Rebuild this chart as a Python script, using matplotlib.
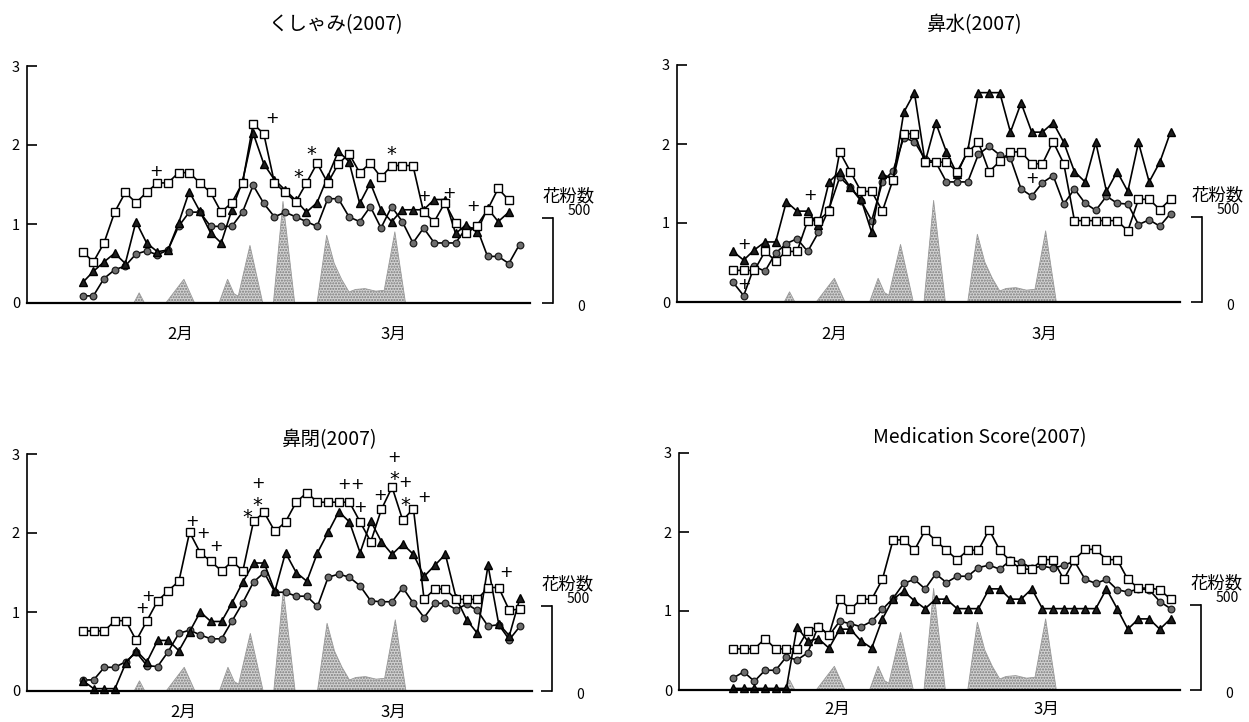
import numpy as np
import matplotlib.pyplot as plt
from matplotlib import transforms

plt.rcParams['font.family'] = ['Noto Sans CJK JP', 'DejaVu Sans']
plt.rcParams['hatch.linewidth'] = 1.0

W, H = 1249, 722

titles = ['くしゃみ(2007)', '鼻水(2007)', '鼻閉(2007)', 'Medication Score(2007)']
months = ['2月', '3月']
pollen_label = '花粉数'

# pollen count (same curve under every panel), x = day index
pollen_x = [0, 4.8, 5.3, 5.8, 7.8, 9.5, 10.5, 12.8, 13.6, 14.2, 14.6, 15.7, 16.9, 17.9, 18.8, 19.9,
            22.0, 22.9, 23.6, 24.3, 25.0, 25.6, 26.5, 27.5, 28.3, 29.3, 30.3, 41.5]
pollen = [0, 0, 60, 0, 0, 140, 0, 0, 140, 55, 40, 340, 0, 0, 600, 0,
          0, 400, 235, 140, 65, 80, 85, 70, 75, 420, 0, 0]

# くしゃみ
sneeze_sq = [0.65, 0.52, 0.76, 1.15, 1.40, 1.27, 1.40, 1.52, 1.52, 1.65, 1.65, 1.52, 1.40, 1.15, 1.27, 1.52,
             2.27, 2.14, 1.52, 1.40, 1.28, 1.52, 1.77, 1.52, 1.76, 1.89, 1.65, 1.77, 1.59, 1.74, 1.74, 1.74,
             1.15, 1.03, 1.27, 1.01, 0.88, 0.98, 1.18, 1.45, 1.30]
sneeze_tri = [0.26, 0.40, 0.52, 0.63, 0.50, 1.03, 0.76, 0.65, 0.67, 1.01, 1.41, 1.16, 0.89, 0.76, 1.18, 1.54,
              2.15, 1.76, 1.56, 1.43, 1.30, 1.15, 1.27, 1.60, 1.92, 1.79, 1.26, 1.52, 1.18, 1.03, 1.18, 1.18,
              1.18, 1.31, 1.31, 0.88, 0.99, 0.90, 1.20, 1.03, 1.15]
sneeze_cir = [0.09, 0.09, 0.31, 0.42, 0.47, 0.62, 0.66, 0.61, 0.67, 0.97, 1.15, 1.15, 0.97, 0.97, 0.97, 1.15,
              1.49, 1.26, 1.09, 1.15, 1.09, 1.03, 0.97, 1.32, 1.32, 1.09, 1.03, 1.22, 0.95, 1.22, 1.03, 0.76,
              0.95, 0.76, 0.76, 0.76, 0.95, 0.95, 0.59, 0.59, 0.50, 0.74]
sneeze_marks = [('+', 6.9, 1.66), ('+', 17.8, 2.33), ('*', 20.2, 1.68), ('*', 21.5, 1.97), ('*', 29.0, 1.97),
                ('+', 32.0, 1.35), ('+', 34.4, 1.38), ('+', 36.6, 1.22)]

# 鼻水
rhino_sq = [0.40, 0.40, 0.40, 0.64, 0.52, 0.64, 0.64, 1.03, 1.03, 1.15, 1.90, 1.65, 1.40, 1.40, 1.15, 1.55,
            2.13, 2.13, 1.77, 1.77, 1.77, 1.65, 1.90, 2.02, 1.65, 1.78, 1.90, 1.90, 1.75, 1.75, 2.03, 1.75,
            1.03, 1.03, 1.03, 1.03, 1.03, 0.90, 1.30, 1.30, 1.17, 1.30]
rhino_tri = [0.64, 0.53, 0.66, 0.76, 0.76, 1.27, 1.15, 1.15, 0.97, 1.52, 1.65, 1.45, 1.30, 0.88, 1.62, 1.55,
             2.40, 2.65, 1.77, 2.27, 1.90, 1.62, 1.92, 2.65, 2.65, 2.65, 2.15, 2.52, 2.15, 2.15, 2.27, 2.02,
             1.65, 1.52, 2.02, 1.40, 1.65, 1.40, 2.02, 1.52, 1.77, 2.15]
rhino_cir = [0.25, 0.08, 0.45, 0.39, 0.62, 0.74, 0.80, 0.64, 0.88, 1.18, 1.58, 1.45, 1.28, 1.03, 1.52, 1.66,
             2.08, 2.03, 1.81, 1.77, 1.52, 1.52, 1.52, 1.87, 1.97, 1.86, 1.82, 1.43, 1.34, 1.51, 1.60, 1.24,
             1.43, 1.25, 1.16, 1.34, 1.25, 1.24, 0.98, 1.04, 0.96, 1.12]
rhino_marks = [('+', 1.0, 0.73), ('+', 1.0, 0.22), ('+', 7.2, 1.35), ('+', 28.0, 1.56)]

# 鼻閉
block_sq = [0.76, 0.76, 0.76, 0.89, 0.89, 0.64, 0.89, 1.14, 1.27, 1.39, 2.01, 1.75, 1.64, 1.52, 1.64, 1.52,
            2.15, 2.26, 2.02, 2.14, 2.39, 2.51, 2.39, 2.39, 2.39, 2.39, 2.14, 1.89, 2.30, 2.58, 2.16, 2.31,
            1.16, 1.29, 1.29, 1.16, 1.16, 1.16, 1.31, 1.31, 1.02, 1.04]
block_tri = [0.13, 0.03, 0.03, 0.03, 0.35, 0.51, 0.37, 0.64, 0.64, 0.51, 0.75, 1.00, 0.88, 0.88, 1.12, 1.38,
             1.62, 1.62, 1.26, 1.75, 1.50, 1.39, 1.75, 2.01, 2.27, 2.14, 1.75, 2.15, 1.89, 1.73, 1.86, 1.73,
             1.45, 1.59, 1.73, 1.18, 0.90, 0.73, 1.59, 0.85, 0.70, 1.18]
block_cir = [0.14, 0.14, 0.30, 0.30, 0.37, 0.49, 0.32, 0.31, 0.50, 0.73, 0.77, 0.71, 0.66, 0.66, 0.89, 1.12,
             1.38, 1.50, 1.25, 1.25, 1.20, 1.20, 1.07, 1.44, 1.48, 1.44, 1.33, 1.14, 1.13, 1.13, 1.31, 1.11,
             0.93, 1.11, 1.11, 1.03, 1.10, 1.02, 0.82, 0.84, 0.65, 0.82]
block_marks = [('+', 5.5, 1.04), ('+', 6.1, 1.20), ('+', 10.2, 2.15), ('+', 11.3, 1.99), ('+', 12.5, 1.83),
               ('*', 15.4, 2.29), ('*', 16.4, 2.44), ('+', 16.4, 2.63), ('+', 24.5, 2.61), ('+', 25.7, 2.61),
               ('+', 26.0, 2.32), ('+', 27.9, 2.47), ('+', 29.2, 2.96), ('*', 29.2, 2.77), ('+', 30.2, 2.64),
               ('*', 30.2, 2.44), ('+', 32.0, 2.45), ('+', 39.7, 1.50)]

# Medication Score
med_sq = [0.52, 0.52, 0.52, 0.65, 0.52, 0.52, 0.52, 0.75, 0.80, 0.70, 1.15, 1.02, 1.15, 1.15, 1.40, 1.90,
          1.90, 1.77, 2.02, 1.89, 1.77, 1.65, 1.77, 1.77, 2.03, 1.77, 1.63, 1.53, 1.53, 1.65, 1.65, 1.40,
          1.65, 1.78, 1.78, 1.65, 1.65, 1.40, 1.29, 1.29, 1.27, 1.15]
med_tri = [0.02, 0.02, 0.02, 0.02, 0.02, 0.02, 0.80, 0.62, 0.65, 0.53, 0.77, 0.77, 0.62, 0.53, 0.90, 1.15,
           1.25, 1.13, 1.03, 1.15, 1.15, 1.03, 1.03, 1.03, 1.28, 1.28, 1.15, 1.15, 1.28, 1.03, 1.03, 1.03,
           1.03, 1.03, 1.03, 1.28, 1.03, 0.77, 0.90, 0.90, 0.77, 0.90]
med_cir = [0.15, 0.23, 0.11, 0.25, 0.25, 0.42, 0.38, 0.47, 0.81, 0.69, 0.87, 0.84, 0.80, 0.87, 1.02, 1.16,
           1.35, 1.40, 1.28, 1.47, 1.36, 1.44, 1.44, 1.55, 1.58, 1.53, 1.64, 1.62, 1.54, 1.57, 1.54, 1.58,
           1.63, 1.40, 1.35, 1.40, 1.27, 1.24, 1.28, 1.27, 1.12, 1.03]
med_marks = []

series = [(sneeze_sq, sneeze_tri, sneeze_cir, sneeze_marks),
          (rhino_sq, rhino_tri, rhino_cir, rhino_marks),
          (block_sq, block_tri, block_cir, block_marks),
          (med_sq, med_tri, med_cir, med_marks)]

# layout in pixels: axis left, axis right, y of 0, y of 3, first point, last point,
# month label x, month label y, title x, title y, bracket x
layout = [
    (27, 530, 303, 66, 82.7, 519.5, (180, 393), 336, 336, 25, 553),
    (677, 1180, 302, 65, 733, 1170.5, (834, 1044), 336, 975, 25, 1202),
    (27, 532, 691, 454, 83, 520, (183, 393), 714, 330, 440, 552),
    (679, 1180, 690, 453, 733, 1170.5, (837, 1046), 711, 980, 438, 1201),
]

fig = plt.figure(figsize=(W / 100, H / 100), dpi=100)

for (sq, tri, cir, marks), title, lay in zip(series, titles, layout):
    left, right, y0, y3, first, last, mpx, mpy, tx, ty, bx = lay
    step = (last - first) / 41.0
    ax = fig.add_axes([left / W, 1 - y0 / H, (right - left) / W, (y0 - y3) / H])
    ax.set_xlim((left - first) / step, (right - first) / step)
    ax.set_ylim(0, 3)

    # pollen on its own scale: 500 sits a little above 1 of the score axis
    ax2 = ax.twinx()
    ax2.set_ylim(0, 1400)
    ax2.fill_between(pollen_x, pollen, 0, facecolor='#d2d2d2', hatch='......',
                     edgecolor='#7a7a7a', linewidth=0)
    ax2.plot(pollen_x, pollen, color='#9a9a9a', lw=0.6)
    for s in ['top', 'left', 'bottom']:
        ax2.spines[s].set_visible(False)
    ax2.spines['right'].set_position(('axes', (bx - left) / (right - left)))
    ax2.spines['right'].set_bounds(0, 500)
    ax2.spines['right'].set_linewidth(1.2)
    ax2.set_yticks([0, 500])
    ax2.set_yticklabels([])
    ax2.tick_params(axis='y', direction='in', length=8, width=1.2)
    tr = transforms.blended_transform_factory(ax2.transAxes, ax2.transData)
    ax_w = right - left
    ax2.text((bx + 26 - left) / ax_w, 545, '500', transform=tr, ha='center', va='center', fontsize=10)
    ax2.text((bx + 28 - left) / ax_w, -25, '0', transform=tr, ha='center', va='center', fontsize=10)
    ax2.text((bx + 16 - left) / ax_w, 630, pollen_label, transform=tr, ha='center', va='center',
             fontsize=12.5)

    ax.set_zorder(ax2.get_zorder() + 1)
    ax.patch.set_visible(False)

    ax.plot(np.arange(len(cir)), cir, color='black', lw=1.2, marker='o', ms=4.8,
            mfc='#6e6e6e', mec='#1e1e1e', mew=0.9, clip_on=False)
    ax.plot(np.arange(len(tri)), tri, color='black', lw=1.2, marker='^', ms=5.3,
            mfc='#1e1e1e', mec='black', clip_on=False)
    ax.plot(np.arange(len(sq)), sq, color='black', lw=1.2, marker='s', ms=5.8,
            mfc='white', mec='black', mew=1.0, clip_on=False)
    for m, x, y in marks:
        if m == '*':
            ax.text(x, y - 0.09, m, ha='center', va='center', fontsize=14, family='DejaVu Sans')
        else:
            ax.text(x, y, m, ha='center', va='center', fontsize=11.5, family='DejaVu Sans')

    for s in ['top', 'right']:
        ax.spines[s].set_visible(False)
    ax.spines['left'].set_linewidth(1.2)
    ax.spines['bottom'].set_linewidth(1.6)
    ax.set_yticks([0, 1, 2, 3])
    ax.tick_params(axis='y', direction='in', length=7, width=1.2, labelsize=10.5, pad=5)
    ax.set_xticks([(p - first) / step for p in mpx])
    ax.set_xticklabels(months, fontsize=12)
    ax.tick_params(axis='x', length=0, pad=(mpy - y0 - 10) * 0.72)

    fig.text(tx / W, 1 - ty / H, title, ha='center', va='center', fontsize=14)

fig.savefig('out.png', dpi=100)
